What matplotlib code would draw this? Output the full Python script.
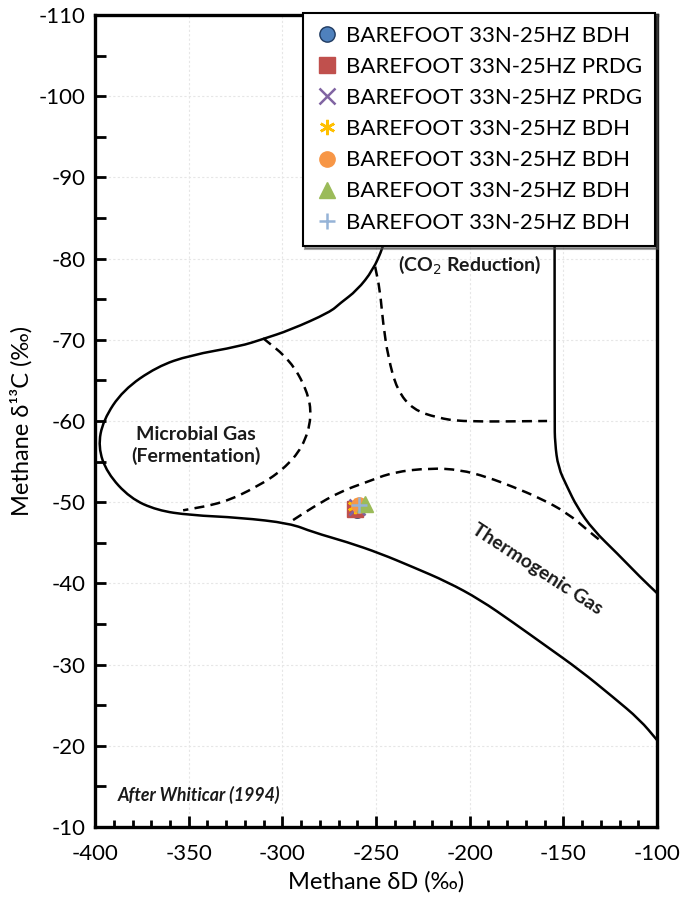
import numpy as np
import matplotlib
matplotlib.use("Agg")
import matplotlib.pyplot as plt
from matplotlib.path import Path
from matplotlib.patches import PathPatch
from matplotlib.ticker import MultipleLocator

plt.rcParams['font.family'] = ['Lato', 'DejaVu Sans']
plt.rcParams['axes.unicode_minus'] = False

# ---- Whiticar (1994) field boundaries (dD, d13C) ----
outer_dD = [-243, -246.3, -251.6, -260.1, -269.2, -274.6, -295.9, -310.3, -322.6,
            -349.3, -366.9, -385.1, -395.7, -398.4, -393.6, -381.3, -366.9, -349.3,
            -322.6, -295.9, -283.6, -265.5, -247.9, -230.2, -212.1, -194.5, -176.9,
            -158.7, -141.1, -123.5, -109.1, -100]
outer_d13C = [-84, -81.4, -78.6, -76.1, -74.5, -73.4, -71.2, -70.1, -69.2,
              -68.1, -66.7, -63.8, -60.1, -56.8, -53.6, -50.5, -49.0, -48.4,
              -48.1, -47.4, -46.3, -45.1, -43.7, -42.0, -40.2, -38.0, -35.2,
              -32.2, -29.3, -26.0, -23.2, -20.7]

right_dD = [-154.7, -154.7, -154.5, -152.8, -148.0, -142.7, -134.2, -121.3, -109.1, -100]
right_d13C = [-110, -60, -57.3, -54.3, -51.9, -49.4, -46.6, -43.7, -40.8, -38.8]

co2_dD = [-250.5, -247.9, -246.3, -243.6, -238.8, -230.2, -217.4, -203.6, -158.7]
co2_d13C = [-79.0, -76.1, -72.1, -67.9, -63.8, -61.4, -60.4, -59.9, -60.0]

ferm_dD = [-310.3, -295.9, -286.8, -284.2, -289.0, -299.6, -313.5, -331.7, -353.0]
ferm_d13C = [-70.2, -67.5, -63.8, -60.5, -56.8, -54.0, -51.9, -49.9, -49.0]

thermo_dD = [-294.3, -283.6, -269.2, -254.8, -240.9, -221.2, -205.2, -190.7,
             -176.9, -162.5, -148.0, -135.8, -130.4]
thermo_d13C = [-47.8, -49.4, -51.3, -52.5, -53.7, -54.2, -54.0, -53.1,
               -51.9, -50.5, -48.7, -46.3, -45.3]

# ---- samples ----
labels = ["BAREFOOT 33N-25HZ BDH", "BAREFOOT 33N-25HZ PRDG", "BAREFOOT 33N-25HZ PRDG",
          "BAREFOOT 33N-25HZ BDH", "BAREFOOT 33N-25HZ BDH", "BAREFOOT 33N-25HZ BDH",
          "BAREFOOT 33N-25HZ BDH"]
sample_dD = [-260, -261, -260, -261, -259, -256, -259]
sample_d13C = [-49.0, -49.2, -49.4, -49.5, -49.6, -49.8, -49.7]

markers = ['o', 's', 'x', (6, 2, 0), 'o', '^', '+']
colors = ['#4F81BD', '#C0504D', '#8064A2', '#FFC000', '#F79646', '#9BBB59', '#95B3D7']
edges = ['#1F3A60', '#C0504D', '#8064A2', '#FFC000', '#F79646', '#9BBB59', '#95B3D7']


def smooth_path(xs, ys):
    # quadratic b-spline through the read points, drawn as a bezier path
    pts = np.column_stack([xs, ys])
    verts = [pts[0], (pts[0] + pts[1]) / 2]
    codes = [Path.MOVETO, Path.LINETO]
    for i in range(1, len(pts) - 1):
        verts += [pts[i], (pts[i] + pts[i + 1]) / 2]
        codes += [Path.CURVE3, Path.CURVE3]
    verts.append(pts[-1])
    codes.append(Path.LINETO)
    return Path(verts, codes)


def boundary(ax, xs, ys, dashed=False):
    ls = (0, (4, 2.5)) if dashed else '-'
    ax.add_patch(PathPatch(smooth_path(xs, ys), fill=False, edgecolor='black',
                           lw=1.8, linestyle=ls, capstyle='butt', zorder=2))


fig = plt.figure(figsize=(6.99, 9.09), dpi=100)
ax = fig.add_axes([0.136, 0.0902, 0.804, 0.8933])

boundary(ax, outer_dD, outer_d13C)
boundary(ax, right_dD, right_d13C)
boundary(ax, co2_dD, co2_d13C, dashed=True)
boundary(ax, ferm_dD, ferm_d13C, dashed=True)
boundary(ax, thermo_dD, thermo_d13C, dashed=True)

for i in range(len(labels)):
    mew = 1.0 if markers[i] in ('o', 's', '^') else 1.8
    ax.plot(sample_dD[i], sample_d13C[i], linestyle='none', marker=markers[i],
            markersize=11, markerfacecolor=colors[i], markeredgecolor=edges[i],
            markeredgewidth=mew, label=labels[i], zorder=5)

txt_kw = dict(color='#1a1a1a', fontweight='bold', fontsize=14, ha='center', va='center')
ax.text(-346, -57.0, "Microbial Gas\n(Fermentation)", linespacing=1.25, **txt_kw)
ax.text(-200, -79.3, "(CO$_2$ Reduction)", **txt_kw)
ax.text(-164, -41.8, "Thermogenic Gas", rotation=-33, **txt_kw)
ax.text(-388, -13.9, "After Whiticar (1994)", color='#1a1a1a', fontweight='bold',
        fontstyle='italic', fontsize=12.8, ha='left', va='center')

ax.set_xlim(-400, -100)
ax.set_ylim(-10, -110)
ax.xaxis.set_major_locator(MultipleLocator(50))
ax.xaxis.set_minor_locator(MultipleLocator(10))
ax.yaxis.set_major_locator(MultipleLocator(10))
ax.yaxis.set_minor_locator(MultipleLocator(5))
ax.tick_params(which='both', direction='in', top=False, right=False, width=2,
               labelsize=16)
ax.tick_params(axis='x', which='major', length=8, pad=12)
ax.tick_params(axis='x', which='minor', length=5)
ax.tick_params(axis='y', which='both', length=8, pad=7)
for s in ax.spines.values():
    s.set_linewidth(2.4)
ax.grid(True, which='major', color='#e6e6e6', lw=0.8, linestyle=(0, (2, 2)), zorder=0)

ax.set_xlabel("Methane δD (‰)", fontsize=17, labelpad=5)
ax.set_ylabel("Methane δ¹³C (‰)", fontsize=17, labelpad=4)

leg = ax.legend(loc='upper right', bbox_to_anchor=(0.997, 1.003), borderaxespad=0,
                fontsize=16, frameon=True, fancybox=False, shadow=True,
                handlelength=1.0, handletextpad=0.35, borderpad=0.6,
                labelspacing=0.5, framealpha=1)
leg.get_frame().set_edgecolor('black')
leg.get_frame().set_linewidth(1.5)
leg.set_zorder(10)

fig.savefig("out.png", dpi=100)
